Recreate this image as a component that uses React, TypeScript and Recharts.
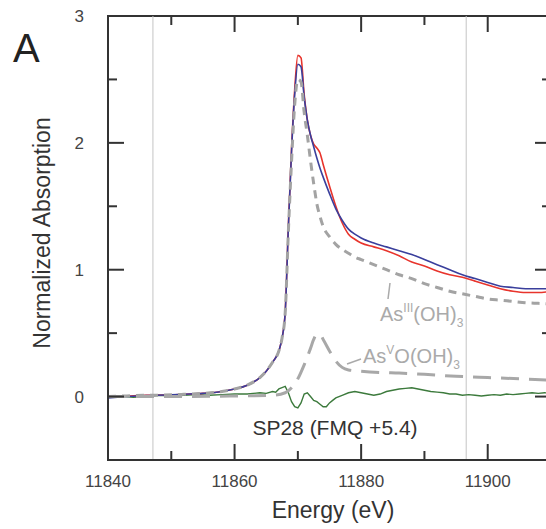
import React from 'react';
import { LineChart, Line, XAxis, YAxis, ReferenceLine, Customized } from 'recharts';

// energy grid (eV) for the sample, fit and As(III) reference
const E_MAIN = [
  11840, 11843, 11846, 11849, 11852, 11855, 11858, 11860, 11862, 11864, 11865, 11866, 11867, 11867.5,
  11868, 11868.5, 11869, 11869.5, 11870, 11870.5, 11871, 11871.5, 11872, 11872.5, 11873, 11873.5,
  11874, 11875, 11876, 11877, 11878, 11879, 11880, 11882, 11884, 11886, 11888, 11890, 11892, 11894,
  11896, 11898, 11900, 11902, 11904, 11906, 11908, 11910,
];
const SAMPLE = [
  0.0, 0.005, 0.01, 0.012, 0.018, 0.025, 0.04, 0.06, 0.09, 0.15, 0.2, 0.27, 0.36, 0.46,
  0.67, 1.35, 1.95, 2.42, 2.69, 2.67, 2.38, 2.18, 2.06, 1.99, 1.96, 1.92,
  1.83, 1.66, 1.5, 1.37, 1.28, 1.24, 1.21, 1.18, 1.15, 1.11, 1.06, 1.03, 0.99, 0.96,
  0.94, 0.91, 0.88, 0.85, 0.83, 0.82, 0.82, 0.83,
];
const FIT = [
  -0.01, 0.0, 0.008, 0.012, 0.018, 0.025, 0.04, 0.06, 0.09, 0.15, 0.2, 0.27, 0.36, 0.46,
  0.66, 1.33, 1.93, 2.38, 2.62, 2.6, 2.36, 2.18, 2.06, 1.97, 1.88, 1.8,
  1.73, 1.6, 1.48, 1.39, 1.32, 1.28, 1.25, 1.21, 1.18, 1.15, 1.12, 1.08, 1.04, 1.0,
  0.96, 0.93, 0.9, 0.87, 0.86, 0.85, 0.85, 0.85,
];
const AS3 = [
  0.0, 0.005, 0.01, 0.012, 0.018, 0.025, 0.04, 0.06, 0.09, 0.15, 0.2, 0.27, 0.36, 0.46,
  0.66, 1.3, 1.85, 2.3, 2.5, 2.48, 2.24, 2.06, 1.86, 1.68, 1.52, 1.42,
  1.34, 1.26, 1.2, 1.16, 1.13, 1.1, 1.08, 1.04, 1.0, 0.96, 0.93, 0.89, 0.86, 0.83,
  0.81, 0.79, 0.77, 0.76, 0.75, 0.74, 0.735, 0.73,
];

// As(V) reference
const E_AS5 = [
  11840, 11850, 11860, 11866, 11868, 11869, 11870, 11871, 11872, 11872.5, 11873, 11873.5, 11874,
  11875, 11876, 11877, 11878, 11880, 11883, 11886, 11890, 11895, 11900, 11905, 11910,
];
const AS5 = [
  0, 0, 0.005, 0.01, 0.03, 0.07, 0.14, 0.25, 0.38, 0.45, 0.49, 0.49, 0.45,
  0.36, 0.28, 0.23, 0.21, 0.2, 0.19, 0.185, 0.175, 0.16, 0.15, 0.14, 0.13,
];

// residual
const E_RES = [
  11840, 11842, 11844, 11846, 11848, 11850, 11852, 11854, 11856, 11858, 11860, 11862, 11864, 11865,
  11866, 11866.5, 11867, 11867.5, 11868, 11868.5, 11869, 11869.5, 11870, 11870.5, 11871, 11871.5,
  11872, 11872.5, 11873, 11873.5, 11874, 11874.5, 11875, 11875.5, 11876, 11877, 11878, 11879, 11880,
  11881, 11882, 11883, 11884, 11885, 11886, 11887, 11888, 11889, 11890, 11891, 11892, 11893, 11894,
  11895, 11896, 11897, 11898, 11899, 11900, 11901, 11902, 11903, 11904, 11905, 11906, 11907, 11908,
  11909, 11910,
];
const RESIDUAL = [
  0.0, 0.005, -0.005, 0.0, 0.01, 0.005, 0.01, 0.015, 0.01, 0.015, 0.02, 0.02, 0.03, 0.025,
  0.04, 0.035, 0.06, 0.07, 0.08, 0.03, -0.04, -0.08, -0.09, -0.05, 0.02, 0.03,
  0.0, -0.03, -0.04, -0.06, -0.08, -0.08, -0.05, -0.03, -0.01, 0.01, 0.03, 0.04, 0.03,
  0.02, 0.01, 0.02, 0.04, 0.05, 0.06, 0.065, 0.07, 0.06, 0.05, 0.04, 0.035, 0.03, 0.02,
  0.02, 0.01, 0.015, 0.01, 0.005, 0.01, 0.015, 0.01, 0.02, 0.015, 0.02, 0.025, 0.03, 0.025,
  0.03, 0.025,
];

const X_DOMAIN = [11840, 11910];
const Y_DOMAIN = [-0.5, 3];
const X_TICKS = [11840, 11850, 11860, 11870, 11880, 11890, 11900, 11910];
const X_LABELS = [11840, 11860, 11880, 11900];
const Y_TICKS = [-0.5, 0, 0.5, 1, 1.5, 2, 2.5, 3];
const Y_LABELS = [0, 1, 2, 3];
const GUIDES = [11847.1, 11896.6];

const toRows = (xs: number[], ys: number[]) => xs.map((e, i) => ({ e, v: ys[i] }));

const AXIS = '#333';
const MAJOR = 16;
const MINOR = 9;

// chart box: the plot runs 108..551 across and 16..460 down
const CHART_W = 560;
const CHART_H = 529;
const M = { top: 16, right: 9, left: 0, bottom: 0 };
const Y_AXIS_W = 108;
const X_AXIS_H = 69;
const P_LEFT = M.left + Y_AXIS_W;
const P_RIGHT = CHART_W - M.right;
const P_TOP = M.top;
const P_BOTTOM = CHART_H - M.bottom - X_AXIS_H;

const px = (v: number) => P_LEFT + ((v - X_DOMAIN[0]) / (X_DOMAIN[1] - X_DOMAIN[0])) * (P_RIGHT - P_LEFT);
const py = (v: number) => P_BOTTOM - ((v - Y_DOMAIN[0]) / (Y_DOMAIN[1] - Y_DOMAIN[0])) * (P_BOTTOM - P_TOP);

const isEdgeX = (v: number) => v === X_DOMAIN[0] || v === X_DOMAIN[1];
const isEdgeY = (v: number) => v === Y_DOMAIN[0] || v === Y_DOMAIN[1];

const BottomTick = ({ x, y, payload }: any) => {
  const v = payload.value;
  const major = v % 20 === 0;
  return (
    <g>
      {!isEdgeX(v) && <line x1={x} x2={x} y1={y} y2={y - (major ? MAJOR : MINOR)} stroke={AXIS} strokeWidth={2} />}
      {X_LABELS.includes(v) && (
        <text x={x} y={y + 27} textAnchor="middle" fontSize={17} fill="#444">{v}</text>
      )}
    </g>
  );
};

const LeftTick = ({ x, y, payload }: any) => {
  const v = payload.value;
  const major = Number.isInteger(v);
  return (
    <g>
      {!isEdgeY(v) && <line x1={x} x2={x + (major ? MAJOR : MINOR)} y1={y} y2={y} stroke={AXIS} strokeWidth={2} />}
      {Y_LABELS.includes(v) && (
        <text x={x - 24} y={y + 6} textAnchor="end" fontSize={17} fill="#444">{v}</text>
      )}
    </g>
  );
};

const frameTicks = () => [
  ...X_TICKS.filter((t) => !isEdgeX(t)).map((t) => ({
    key: `tx${t}`, x1: px(t), x2: px(t), y1: P_TOP, y2: P_TOP + (t % 20 === 0 ? MAJOR : MINOR),
  })),
  ...Y_TICKS.filter((t) => !isEdgeY(t)).map((t) => ({
    key: `ty${t}`, x1: P_RIGHT, x2: P_RIGHT - (Number.isInteger(t) ? MAJOR : MINOR), y1: py(t), y2: py(t),
  })),
];

const Annotations = () => (
  <g fontFamily="'Liberation Sans', Arial, sans-serif">
    {/* box round the plot, with inward ticks on the top and right sides */}
    <rect x={P_LEFT} y={P_TOP} width={P_RIGHT - P_LEFT} height={P_BOTTOM - P_TOP} fill="none" stroke={AXIS} strokeWidth={2} />
    {frameTicks().map(({ key, ...c }) => (
      <line key={key} {...c} stroke={AXIS} strokeWidth={2} />
    ))}

    <text x={13} y={62} fontSize={40} fill="#222">A</text>
    <text x={50} y={233} fontSize={23} fill="#333" textAnchor="middle" transform="rotate(-90 50 233)">
      Normalized Absorption
    </text>
    <text x={333} y={518} fontSize={23} fill="#333" textAnchor="middle">Energy (eV)</text>
    <text x={335} y={435} fontSize={21} fill="#333" textAnchor="middle">SP28 (FMQ +5.4)</text>

    <line x1={390} y1={283} x2={388} y2={299} stroke="#aaa" strokeWidth={1.5} />
    <text x={380} y={321} fontSize={20} fill="#aaa">
      As<tspan dy={-9} fontSize={12}>III</tspan>
      <tspan dy={9}>(OH)</tspan>
      <tspan dy={6} fontSize={12}>3</tspan>
    </text>

    <line x1={347} y1={364} x2={361} y2={359} stroke="#aaa" strokeWidth={1.5} />
    <text x={363} y={363} fontSize={20} fill="#aaa">
      As<tspan dy={-9} fontSize={12}>V</tspan>
      <tspan dy={9}>O(OH)</tspan>
      <tspan dy={6} fontSize={12}>3</tspan>
    </text>
  </g>
);

export default function App() {
  return (
    <div
      style={{
        position: 'absolute',
        left: 0,
        top: 0,
        width: 546,
        height: 529,
        overflow: 'hidden',
        background: '#fff',
        fontFamily: "'Liberation Sans', Arial, sans-serif",
      }}
    >
      <LineChart width={CHART_W} height={CHART_H} margin={M}>
        <XAxis
          dataKey="e"
          type="number"
          domain={X_DOMAIN}
          ticks={X_TICKS}
          interval={0}
          height={X_AXIS_H}
          tickSize={0}
          tickMargin={0}
          tickLine={false}
          tick={BottomTick}
          axisLine={{ stroke: AXIS, strokeWidth: 2 }}
          allowDataOverflow
        />
        <YAxis
          type="number"
          domain={Y_DOMAIN}
          ticks={Y_TICKS}
          interval={0}
          width={Y_AXIS_W}
          tickSize={0}
          tickMargin={0}
          tickLine={false}
          tick={LeftTick}
          axisLine={{ stroke: AXIS, strokeWidth: 2 }}
          allowDataOverflow
        />

        {GUIDES.map((g) => (
          <ReferenceLine key={g} x={g} stroke="#c4c4c4" strokeWidth={1} />
        ))}

        <Line data={toRows(E_RES, RESIDUAL)} dataKey="v" type="linear" stroke="#3c7a3c" strokeWidth={1.4} dot={false} isAnimationActive={false} />
        <Line data={toRows(E_MAIN, SAMPLE)} dataKey="v" type="monotone" stroke="#e8342c" strokeWidth={1.6} dot={false} isAnimationActive={false} />
        <Line data={toRows(E_MAIN, FIT)} dataKey="v" type="monotone" stroke="#3a3f9c" strokeWidth={1.6} dot={false} isAnimationActive={false} />
        <Line data={toRows(E_MAIN, AS3)} dataKey="v" type="monotone" stroke="#a3a3a3" strokeWidth={3} strokeDasharray="8 6" dot={false} isAnimationActive={false} />
        <Line data={toRows(E_AS5, AS5)} dataKey="v" type="monotone" stroke="#a8a8a8" strokeWidth={3} strokeDasharray="18 10" dot={false} isAnimationActive={false} />

        <Customized component={Annotations} />
      </LineChart>
    </div>
  );
}
